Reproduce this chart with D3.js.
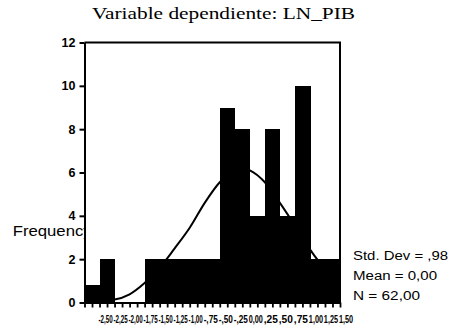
<!DOCTYPE html>
<html>
<head>
<meta charset="utf-8">
<script src="https://cdn.jsdelivr.net/npm/d3@7"></script>
<style>
  html, body { margin: 0; padding: 0; background: #fff; }
  svg { display: block; }
</style>
</head>
<body>
<svg id="chart" width="450" height="329"></svg>
<script>
// Histogram of standardized residuals (dependent variable LN_PIB)
const binCenters = [-2.5, -2.25, -2.0, -1.75, -1.5, -1.25, -1.0, -0.75, -0.5,
                    -0.25, 0.0, 0.25, 0.5, 0.75, 1.0, 1.25, 1.5];
const frequencies = [0.8, 2, 0, 0, 2, 2, 2, 2, 2, 9, 8, 4, 8, 4, 10, 2, 2];
const binWidth = 0.25;
const tickLabels = ["-2,50", "-2,25", "-2,00", "-1,75", "-1,50", "-1,25", "-1,00", "-,75", "-,50",
                    "-,25", "0,00", ",25", ",50", ",75", "1,00", "1,25", "1,50"];
const yTicks = [0, 2, 4, 6, 8, 10, 12];

// Normal curve overlay (mean 0, sd ,98), heights in frequency units
const curveX = [-2.625, -2.375, -2.125, -1.875, -1.625, -1.375, -1.125, -0.875, -0.625,
                -0.375, -0.125, 0, 0.125, 0.375, 0.625, 0.875, 1.125, 1.375, 1.625];
const curveY = [0.03, 0.08, 0.14, 0.38, 0.9, 1.6, 2.5, 3.45, 4.6,
                5.55, 6.1, 6.2, 6.1, 5.55, 4.6, 3.55, 2.45, 1.55, 0.92];

const statLines = ["Std. Dev = ,98", "Mean = 0,00", "N = 62,00"];
const statWidths = [95, 84, 67];

const svg = d3.select("#chart");
const plotLeft = 84.5, plotRight = 340, plotTop = 42.5, plotBottom = 302.5;

const x = d3.scaleLinear().domain([-2.625, 1.625]).range([plotLeft, plotRight]);
const y = d3.scaleLinear().domain([0, 12]).range([plotBottom, plotTop]);

// Title
svg.append("text")
  .attr("x", 92).attr("y", 18.5)
  .attr("font-family", "'Liberation Serif', 'Times New Roman', serif")
  .attr("font-size", 17.5)
  .attr("textLength", 263).attr("lengthAdjust", "spacingAndGlyphs")
  .text("Variable dependiente: LN_PIB");

// Axis title (partly hidden behind the plot area)
svg.append("text")
  .attr("x", 12.7).attr("y", 236)
  .attr("font-family", "'Liberation Sans', Arial, sans-serif")
  .attr("font-size", 14)
  .attr("textLength", 79).attr("lengthAdjust", "spacingAndGlyphs")
  .text("Frequency");

// Plot area
svg.append("rect")
  .attr("x", plotLeft + 1).attr("y", plotTop)
  .attr("width", plotRight - plotLeft - 1).attr("height", plotBottom - plotTop)
  .attr("fill", "#fff");

// Bars
svg.append("g")
  .selectAll("rect")
  .data(binCenters.map((c, i) => ({ c, f: frequencies[i] })).filter(d => d.f > 0))
  .join("rect")
  .attr("x", d => x(d.c - binWidth / 2))
  .attr("width", d => x(d.c + binWidth / 2) - x(d.c - binWidth / 2) + 0.6)
  .attr("y", d => y(d.f))
  .attr("height", d => y(0) - y(d.f))
  .attr("fill", "#000")
  .attr("shape-rendering", "crispEdges");

// Normal curve
const line = d3.line()
  .x((d, i) => x(curveX[i]))
  .y(d => y(d))
  .curve(d3.curveMonotoneX);
svg.append("path")
  .attr("d", line(curveY))
  .attr("fill", "none")
  .attr("stroke", "#000")
  .attr("stroke-width", 2);

// Frame: top and right edges
svg.append("path")
  .attr("d", `M${plotLeft},${plotTop}H${plotRight}V${plotBottom}`)
  .attr("fill", "none")
  .attr("stroke", "#000")
  .attr("stroke-width", 2);

// Y axis
const yAxis = svg.append("g")
  .attr("transform", `translate(${plotLeft},0)`)
  .call(d3.axisLeft(y).tickValues(yTicks).tickSize(5).tickSizeOuter(0).tickPadding(4));
yAxis.select(".domain").attr("stroke-width", 2);
yAxis.selectAll(".tick line").attr("stroke-width", 2);
yAxis.selectAll(".tick text")
  .attr("font-family", "'Liberation Sans', Arial, sans-serif")
  .attr("font-size", 12.5)
  .attr("font-weight", "bold")
  .attr("fill", "#000");

// X axis tick marks (bin edges and midpoints)
const tickPositions = d3.range(35).map(i => -2.625 + i * 0.125);
const xAxis = svg.append("g")
  .attr("transform", `translate(0,${plotBottom})`)
  .call(d3.axisBottom(x).tickValues(tickPositions).tickSize(5).tickSizeOuter(0).tickFormat(""));
xAxis.select(".domain").attr("stroke-width", 2);
xAxis.selectAll(".tick line").attr("stroke-width", 1.8);

// X tick labels at bin midpoints (dense, horizontally squeezed)
const xLabels = svg.append("g")
  .attr("transform", `translate(13,${plotBottom})`)
  .call(d3.axisBottom(x).tickValues(binCenters).tickSize(0).tickPadding(0)
    .tickFormat((d, i) => tickLabels[i]));
xLabels.select(".domain").remove();
xLabels.selectAll(".tick text")
  .attr("font-family", "'Liberation Sans', Arial, sans-serif")
  .attr("font-size", 10.5)
  .attr("font-weight", "bold")
  .attr("fill", "#000")
  .attr("y", 13)
  .attr("transform", function () {
    const w = this.getComputedTextLength();
    const k = Math.min(1, 14.2 / w);
    return `scale(${k},1)`;
  });

// Summary statistics
svg.append("g")
  .selectAll("text")
  .data(statLines)
  .join("text")
  .attr("x", 353)
  .attr("y", (d, i) => 260 + i * 20)
  .attr("font-family", "'Liberation Sans', Arial, sans-serif")
  .attr("font-size", 12.5)
  .attr("textLength", (d, i) => statWidths[i])
  .attr("lengthAdjust", "spacingAndGlyphs")
  .text(d => d);
</script>
</body>
</html>
